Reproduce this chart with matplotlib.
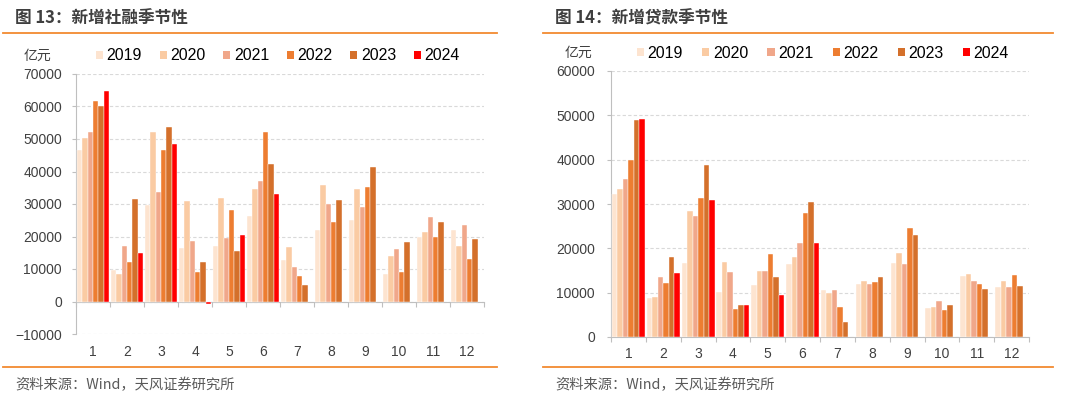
import matplotlib
matplotlib.use('Agg')
import matplotlib.pyplot as plt
from matplotlib.patches import Rectangle
import numpy as np

plt.rcParams['font.family'] = ['Liberation Sans', 'Noto Sans CJK SC', 'DejaVu Sans']

months = [str(i) for i in range(1, 13)]
years = ['2019', '2020', '2021', '2022', '2023', '2024']
colors = ['#FDE4D0', '#FACBA3', '#F0A78A', '#ED7D31', '#D4702B', '#FF0000']

# 新增社融 (亿元)
tsf_2019 = [46700, 9750, 29600, 16500, 17000, 26400, 12800, 21900, 25100, 8600, 19900, 21900]
tsf_2020 = [50400, 8600, 52000, 31000, 31800, 34700, 16800, 35700, 34700, 13900, 21300, 17000]
tsf_2021 = [52000, 17200, 33700, 18500, 19600, 37100, 10700, 29900, 29100, 16200, 26000, 23600]
tsf_2022 = [61800, 12200, 46500, 9200, 28300, 52000, 7800, 24500, 35300, 9100, 19900, 13000]
tsf_2023 = [60000, 31500, 53800, 12200, 15500, 42300, 5200, 31300, 41300, 18300, 24500, 19300]
tsf_2024 = [64800, 15000, 48400, -800, 20600, 33000]

# 新增贷款 (亿元)
loan_2019 = [32200, 8800, 16800, 10100, 11700, 16500, 10500, 12000, 16800, 6550, 13800, 11200]
loan_2020 = [33400, 9000, 28400, 16900, 14800, 18100, 9900, 12700, 19000, 6850, 14200, 12600]
loan_2021 = [35700, 13500, 27200, 14600, 14900, 21200, 10600, 12000, 16500, 8100, 12700, 11200]
loan_2022 = [39900, 12200, 31300, 6400, 18800, 27900, 6700, 12300, 24600, 6000, 12000, 13900]
loan_2023 = [48900, 18000, 38800, 7150, 13500, 30400, 3400, 13500, 23100, 7300, 10800, 11600]
loan_2024 = [49100, 14400, 30800, 7150, 9400, 21200]

tsf_series = [tsf_2019, tsf_2020, tsf_2021, tsf_2022, tsf_2023, tsf_2024]
loan_series = [loan_2019, loan_2020, loan_2021, loan_2022, loan_2023, loan_2024]

W, H = 1080, 399
fig = plt.figure(figsize=(W / 100, H / 100), dpi=100)
fig.patch.set_facecolor('white')

CJK = ['Noto Sans CJK SC', 'DejaVu Sans']
AXC = '#BFBFBF'
TXT = '#404040'


def fx(px):
    return px / W


def fy(py):
    return 1 - py / H


def panel(series, x0, x1, ytop, ybot, ylim, title, tx, line_x0, line_x1,
          unit_xy, legend_x, xpad, ypad, colspace):
    ax = fig.add_axes([fx(x0), fy(ybot), fx(x1 - x0), fy(ytop) - fy(ybot)])
    n = len(years)
    gw = 0.95
    bw = gw / n
    for i, (yr, vals, c) in enumerate(zip(years, series, colors)):
        x = np.arange(len(vals)) + (i - (n - 1) / 2) * bw
        ax.bar(x, vals, width=bw, color=c, edgecolor='white', linewidth=0.3, zorder=3)
    ax.set_xlim(-0.5, 11.5)
    ax.set_ylim(*ylim)
    ax.set_yticks(np.arange(ylim[0], ylim[1] + 1, 10000))
    ax.yaxis.grid(True, linestyle=(0, (3, 2)), color='#D9D9D9', linewidth=0.8, zorder=0)
    ax.set_axisbelow(True)
    for s in ['top', 'right']:
        ax.spines[s].set_visible(False)
    ax.spines['left'].set_color(AXC)
    ax.spines['bottom'].set_color(AXC)
    ax.spines['bottom'].set_position(('data', 0))
    ax.set_xticks(np.arange(12))
    ax.set_xticklabels(months)
    ax.set_xticks(np.arange(-0.5, 12, 1), minor=True)
    ax.tick_params(axis='x', which='major', length=0, pad=xpad, labelsize=10, labelcolor=TXT)
    ax.tick_params(axis='x', which='minor', length=3.5, color=AXC, width=0.8)
    ax.tick_params(axis='y', length=3, color=AXC, width=0.8, pad=ypad, labelsize=10, labelcolor=TXT)

    fig.text(fx(tx), fy(18), title, family=CJK, fontsize=12, fontweight='bold',
             color='#3F3F3F', ha='left', va='center')
    fig.add_artist(plt.Line2D([fx(line_x0), fx(line_x1)], [fy(33), fy(33)],
                              color='#F28A30', linewidth=1.3))
    fig.add_artist(plt.Line2D([fx(line_x0), fx(line_x1)], [fy(367), fy(367)],
                              color='#F28A30', linewidth=1.3))
    fig.text(fx(tx), fy(385), '资料来源：Wind，天风证券研究所', family=CJK, fontsize=10.3,
             color='#595959', ha='left', va='center')
    fig.text(fx(unit_xy[0]), fy(unit_xy[1]), '亿元', family=CJK, fontsize=10,
             color=TXT, ha='center', va='center')
    handles = [Rectangle((0, 0), 1, 1, facecolor=c, edgecolor='none') for c in colors]
    fig.legend(handles, years, loc='center left', bbox_to_anchor=(fx(legend_x), fy(unit_xy[1])),
               ncol=6, frameon=False, fontsize=11.4, handlelength=0.45, handleheight=0.45,
               handletextpad=0.22, columnspacing=colspace, borderpad=0, borderaxespad=0,
               labelcolor='#000000')
    return ax


panel(tsf_series, 76, 484, 74, 334, (-10000, 70000), '图 13：新增社融季节性', 15, 3, 497,
      (37, 56), 96, 31, 7, 1.12)
panel(loan_series, 611, 1029, 71, 337, (0, 60000), '图 14：新增贷款季节性', 555, 543, 1053,
      (578, 53), 637, 7, 8.5, 1.22)

fig.savefig('out.png', dpi=100, facecolor='white')
